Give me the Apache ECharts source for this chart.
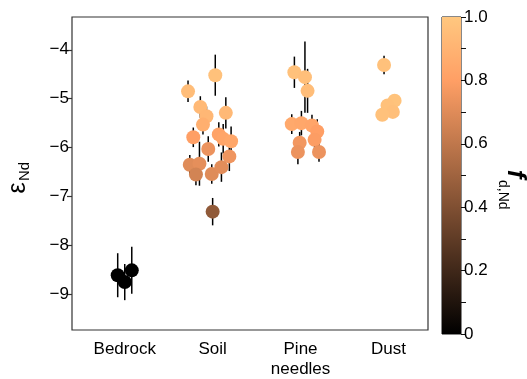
<!DOCTYPE html>
<html>
<head>
<meta charset="utf-8">
<script src="https://cdn.jsdelivr.net/npm/echarts@6/dist/echarts.min.js"></script>
<style>
  html, body { margin: 0; padding: 0; background: #fff; }
  #chart { width: 527px; height: 379px; }
</style>
</head>
<body>
<div id="chart"></div>
<script>
// Sample groups along the x axis (positions 1..4)
const categories = ['Bedrock', 'Soil', 'Pine\nneedles', 'Dust'];

// Per-sample values: jittered x position, εNd, 2σ error, f(d,Nd)
const pointX = [
  0.92, 1.00, 1.08,
  1.72, 2.03, 1.86, 1.93, 2.15, 1.89, 1.78, 2.07, 2.12, 2.21, 1.95, 2.19, 1.74, 1.85, 1.81, 1.99, 2.10, 2.00,
  2.93, 3.05, 3.08, 2.90, 3.01, 3.13, 3.19, 3.16, 2.99, 2.97, 3.21,
  3.95, 4.07, 3.99, 4.05, 3.93
];
const pointEps = [
  -8.61, -8.75, -8.51,
  -4.85, -4.52, -5.17, -5.36, -5.29, -5.53, -5.79, -5.73, -5.82, -5.87, -6.03, -6.18, -6.35, -6.33, -6.55, -6.54, -6.40, -7.31,
  -4.46, -4.56, -4.84, -5.52, -5.50, -5.55, -5.67, -5.84, -5.90, -6.09, -6.09,
  -4.31, -5.04, -5.14, -5.27, -5.33
];
const pointErr = [
  0.45, 0.37, 0.48,
  0.22, 0.42, 0.22, 0.20, 0.32, 0.20, 0.20, 0.25, 0.30, 0.30, 0.26, 0.30, 0.20, 0.45, 0.22, 0.20, 0.30, 0.28,
  0.32, 0.73, 0.45, 0.20, 0.25, 0.22, 0.25, 0.25, 0.22, 0.25, 0.20,
  0.19, 0.08, 0.08, 0.08, 0.08
];
const pointF = [
  0.00, 0.00, 0.00,
  0.95, 0.97, 0.93, 0.92, 0.93, 0.88, 0.80, 0.82, 0.83, 0.84, 0.74, 0.75, 0.70, 0.72, 0.66, 0.70, 0.71, 0.45,
  0.97, 0.96, 0.95, 0.85, 0.84, 0.83, 0.80, 0.79, 0.76, 0.74, 0.74,
  0.97, 0.98, 0.97, 0.96, 0.97
];

// Axis ticks
const epsTicks = [-9, -8, -7, -6, -5, -4];
const fTicks = [0, 0.1, 0.2, 0.3, 0.4, 0.5, 0.6, 0.7, 0.8, 0.9, 1.0];
const fLabels = [0, 0.2, 0.4, 0.6, 0.8, 1.0];

// matplotlib-style "copper" colormap
function copper(v) {
  const r = Math.round(255 * Math.min(1, 1.25 * v));
  const g = Math.round(255 * 0.7812 * v);
  const b = Math.round(255 * 0.4975 * v);
  return 'rgb(' + r + ',' + g + ',' + b + ')';
}
const copperSteps = [0, 0.2, 0.4, 0.6, 0.8, 1.0].map(copper);

const FONT = '"Liberation Sans", Arial, Helvetica, sans-serif';
const INK = '#000';
const FRAME = '#333';
const FS = 17;

const errData = pointX.map((x, i) => [x, pointEps[i] - pointErr[i], pointEps[i] + pointErr[i]]);
const ptData = pointX.map((x, i) => [x, pointEps[i], pointF[i]]);

const chart = echarts.init(document.getElementById('chart'), null, { renderer: 'canvas' });

chart.setOption({
  animation: false,
  backgroundColor: '#fff',
  textStyle: { fontFamily: FONT },
  grid: [
    { left: 72, top: 17, right: 99, bottom: 47, show: true, borderColor: FRAME, borderWidth: 1.2, backgroundColor: 'transparent' },
    { left: 442, top: 17, width: 19, bottom: 45, show: true, borderColor: '#111', borderWidth: 1, backgroundColor: 'transparent' }
  ],
  xAxis: [
    {
      type: 'value', gridIndex: 0, min: 0.4, max: 4.45,
      axisLine: { show: false }, axisTick: { show: false }, splitLine: { show: false },
      axisLabel: {
        customValues: [1, 2, 3, 4],
        formatter: v => categories[Math.round(v) - 1],
        color: INK, fontSize: FS, fontFamily: FONT, margin: 9, lineHeight: 20
      }
    },
    {
      type: 'category', gridIndex: 1, data: [''], show: false
    }
  ],
  yAxis: [
    {
      type: 'value', gridIndex: 0, min: -9.73, max: -3.33,
      axisLine: { show: false }, splitLine: { show: false },
      axisTick: { show: true, customValues: epsTicks, length: 5, lineStyle: { color: FRAME, width: 1.2 } },
      axisLabel: {
        customValues: epsTicks,
        formatter: v => String(v).replace('-', '\u2212'),
        color: INK, fontSize: FS, fontFamily: FONT, margin: 3
      }
    },
    {
      type: 'value', gridIndex: 1, min: 0, max: 1, position: 'right',
      axisLine: { show: false }, splitLine: { show: false },
      axisTick: { show: true, customValues: fTicks, length: 5, lineStyle: { color: '#111', width: 1 } },
      axisLabel: {
        customValues: fLabels,
        formatter: v => (v === 0 ? '0' : v.toFixed(1)),
        color: INK, fontSize: FS, fontFamily: FONT, margin: 3
      }
    }
  ],
  visualMap: {
    type: 'continuous', show: false, seriesIndex: 1, dimension: 2,
    min: 0, max: 1, inRange: { color: copperSteps }
  },
  series: [
    {
      // vertical error bars
      type: 'custom', xAxisIndex: 0, yAxisIndex: 0, z: 2,
      data: errData,
      encode: { x: 0, y: [1, 2] },
      renderItem: (params, api) => {
        const lo = api.coord([api.value(0), api.value(1)]);
        const hi = api.coord([api.value(0), api.value(2)]);
        return {
          type: 'line',
          shape: { x1: lo[0], y1: lo[1], x2: hi[0], y2: hi[1] },
          style: { stroke: '#000', lineWidth: 1.5 }
        };
      }
    },
    {
      type: 'scatter', xAxisIndex: 0, yAxisIndex: 0, z: 3,
      symbol: 'circle', symbolSize: 14,
      itemStyle: { opacity: 1 },
      data: ptData
    },
    {
      // colour bar body
      type: 'bar', xAxisIndex: 1, yAxisIndex: 1, barWidth: '100%',
      data: [1], silent: true,
      itemStyle: {
        color: {
          type: 'linear', x: 0, y: 0, x2: 0, y2: 1,
          colorStops: [
            { offset: 0, color: copper(1.0) },
            { offset: 0.2, color: copper(0.8) },
            { offset: 1, color: copper(0) }
          ]
        }
      }
    }
  ],
  graphic: [
    {
      type: 'group', x: 18, y: 188, rotation: Math.PI / 2,
      children: [
        { type: 'text', x: 0, y: 0, style: { text: 'ε', fontSize: 25, fontFamily: FONT, fill: INK, align: 'center', verticalAlign: 'middle' } },
        { type: 'text', x: 7, y: 7, style: { text: 'Nd', fontSize: 15, fontFamily: FONT, fill: INK, align: 'left', verticalAlign: 'middle' } }
      ]
    },
    {
      type: 'group', x: 515, y: 174, rotation: -Math.PI / 2,
      children: [
        { type: 'text', x: 0, y: 0, style: { text: 'f', fontSize: 26, fontStyle: 'italic', fontWeight: 'bold', fontFamily: FONT, fill: INK, align: 'center', verticalAlign: 'middle' } },
        { type: 'text', x: 6, y: 12, style: { text: 'd,Nd', fontSize: 14, fontFamily: FONT, fill: INK, align: 'left', verticalAlign: 'middle' } }
      ]
    }
  ]
});
</script>
</body>
</html>
